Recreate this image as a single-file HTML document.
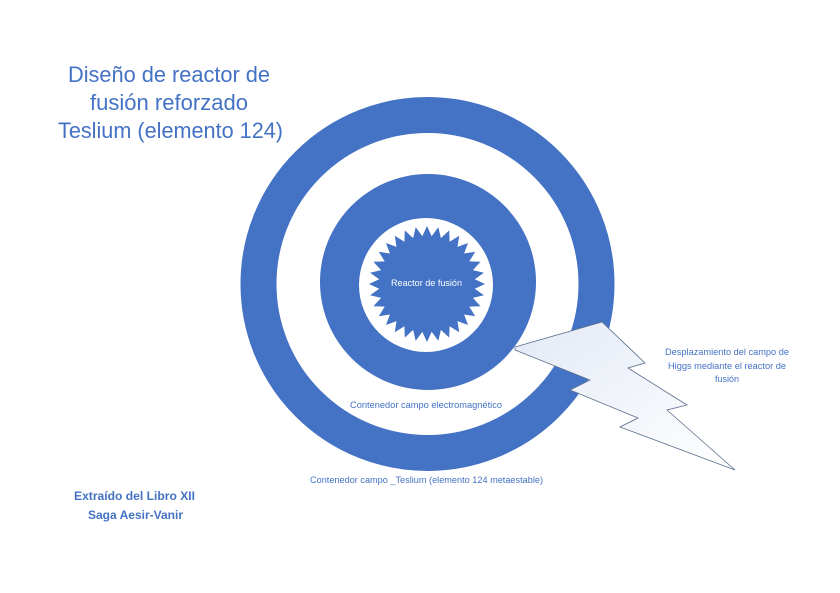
<!DOCTYPE html>
<html><head><meta charset="utf-8"><style>
html,body{margin:0;padding:0;background:#fff;}
svg{display:block;font-family:"Liberation Sans",sans-serif;}
</style></head><body>
<svg width="840" height="593" viewBox="0 0 840 593" xmlns="http://www.w3.org/2000/svg">
<defs>
<linearGradient id="g" x1="0" y1="0" x2="1" y2="1">
<stop offset="0" stop-color="#e3e9f5"/><stop offset="1" stop-color="#ffffff"/>
</linearGradient>
</defs>
<circle cx="427.5" cy="284" r="169" fill="none" stroke="#4472c4" stroke-width="36"/>
<circle cx="428" cy="282" r="108" fill="#4472c4"/>
<circle cx="426" cy="285" r="67" fill="#fff"/>
<polygon id="star" fill="#4472c4" points=""/>
<polygon points="515,347 602,322 645,363 628,368 687,405 667,410 735,470 620,427 638,418 570,390 590,380 515,350" fill="url(#g)" stroke="#5a6e8c" stroke-width="0.8"/>
<g fill="#4472c4" font-size="22">
<text x="68" y="82" textLength="202" lengthAdjust="spacingAndGlyphs">Diseño de reactor de</text>
<text x="90" y="110" textLength="158" lengthAdjust="spacingAndGlyphs">fusión reforzado</text>
<text x="58" y="138" textLength="225" lengthAdjust="spacingAndGlyphs">Teslium (elemento 124)</text>
</g>
<g fill="#4472c4" font-size="12" font-weight="bold">
<text x="74" y="500" textLength="121" lengthAdjust="spacingAndGlyphs">Extraído del Libro XII</text>
<text x="88" y="519" textLength="95" lengthAdjust="spacingAndGlyphs">Saga Aesir-Vanir</text>
</g>
<text x="391" y="286" fill="#fff" font-size="9" textLength="71" lengthAdjust="spacingAndGlyphs">Reactor de fusión</text>
<g fill="#4472c4" font-size="9">
<text x="350" y="408" textLength="152" lengthAdjust="spacingAndGlyphs">Contenedor campo electromagnético</text>
<text x="310" y="483" textLength="233" lengthAdjust="spacingAndGlyphs">Contenedor campo _Teslium (elemento 124 metaestable)</text>
<text x="665" y="355" textLength="124" lengthAdjust="spacingAndGlyphs">Desplazamiento del campo de</text>
<text x="668" y="369" textLength="118" lengthAdjust="spacingAndGlyphs">Higgs mediante el reactor de</text>
<text x="727" y="382" text-anchor="middle">fusión</text>
</g>
</svg>
<script>
var p=[],n=32,cx=427,cy=284;
for(var i=0;i<2*n;i++){var r=i%2?48:58,a=Math.PI*i/n-Math.PI/2;p.push((cx+r*Math.cos(a)).toFixed(1)+","+(cy+r*Math.sin(a)).toFixed(1));}
document.getElementById("star").setAttribute("points",p.join(" "));
</script>
</body></html>
